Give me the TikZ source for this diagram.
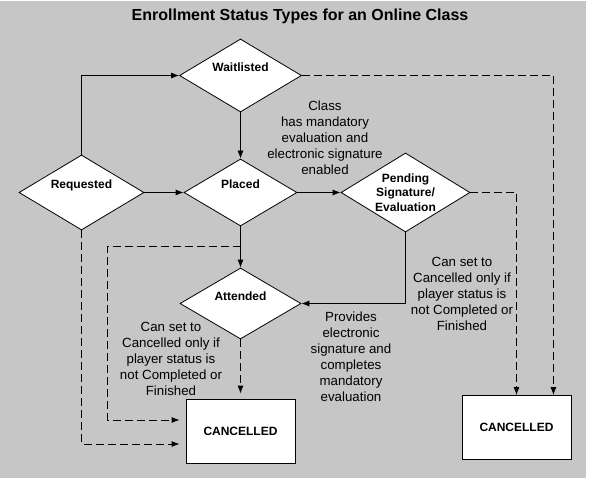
\documentclass[tikz,border=0pt]{standalone}
\usepackage{fontspec}
\setmainfont{Liberation Sans}
\usetikzlibrary{shapes,arrows.meta,calc}
\definecolor{backgray}{RGB}{198,198,198}
\begin{document}
\begin{tikzpicture}[x=1pt,y=-1pt,>={Latex[length=8pt,width=6pt]},
		state/.style={draw,diamond,fill=white,line width=0.8pt,inner sep=0pt,aspect=1.63,font=\fontsize{12}{14.4}\selectfont\bfseries},
		uplabel/.style={text height=9pt,text depth=16pt},
		final/.style={draw,rectangle,fill=white,line width=0.8pt,minimum width=109pt,minimum height=64pt,font=\fontsize{12}{14.4}\selectfont\bfseries},
		note/.style={align=center,font=\fontsize{13.3}{16}\selectfont},
		flow/.style={->,line width=0.8pt},
		cancelflow/.style={->,line width=0.8pt,dash pattern=on 8pt off 4pt}]
		\useasboundingbox (0,0) rectangle (589,481);
		\fill [backgray] (0,1) rectangle (586,478);
		\node (title)       [font=\fontsize{16}{19}\selectfont\bfseries] at (300,16.5) {Enrollment Status Types for an Online Class};
		\node (requested)   [state,uplabel,minimum width=125pt,minimum height=75pt] at (81.5,192.5) {Requested};
		\node (waitlisted)  [state,uplabel,minimum width=122pt,minimum height=73pt] at (240.5,75.5) {Waitlisted};
		\node (placed)      [state,uplabel,minimum width=113pt,minimum height=67pt] at (240.5,192.5) {Placed};
		\node (pending)     [state,align=center,minimum width=129pt,minimum height=79pt] at (405.5,192.5) {Pending\\Signature/\\Evaluation};
		\node (attended)    [state,uplabel,minimum width=121pt,minimum height=71pt] at (240.5,303.5) {Attended};
		\node (cancelleft)  [final] at (240.5,431) {CANCELLED};
		\node (cancelright) [final] at (516.5,427.5) {CANCELLED};
		\coordinate (branch) at (240.5,246);
		\draw [flow] (requested.north) |- (waitlisted.west);
		\draw [flow] (requested.east) -- (placed.west);
		\draw [flow] (waitlisted.south) -- (placed.north);
		\draw [flow] (placed.east) -- (pending.west);
		\draw [flow] (placed.south) -- (attended.north);
		\draw [flow] (pending.south) |- (attended.east);
		\draw [cancelflow] (waitlisted.east) -| ([xshift=-18pt]cancelright.north east);
		\draw [cancelflow] (pending.east) -| (cancelright.north);
		\draw [cancelflow,shorten >=5pt] (attended.south) -- (cancelleft.north);
		\draw [cancelflow,shorten >=6pt] (branch) -| ([xshift=-78pt,yshift=11pt]cancelleft.west) -- ([yshift=11pt]cancelleft.west);
		\draw [cancelflow,shorten >=6pt] (requested.south) |- ([yshift=-13pt]cancelleft.west);
		\node (classnote)   [note] at (325,138) {Class\\has mandatory\\evaluation and\\electronic signature\\enabled};
		\node (rightnote)   [note] at (462,294) {Can set to\\Cancelled only if\\player status is\\not Completed or\\Finished};
		\node (leftnote)    [note] at (171,359) {Can set to\\Cancelled only if\\player status is\\not Completed or\\Finished};
		\node (providesnote) [note] at (351,357) {Provides\\electronic\\signature and\\completes\\mandatory\\evaluation};
	\end{tikzpicture}
\end{document}
